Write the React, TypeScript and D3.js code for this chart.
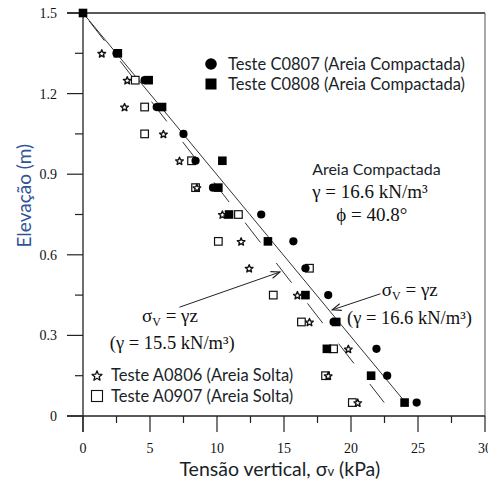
import React from "react";
import * as d3 from "d3";

const elevations = [1.5, 1.35, 1.25, 1.15, 1.05, 0.95, 0.85, 0.75, 0.65, 0.55, 0.45, 0.35, 0.25, 0.15, 0.05];
const c0807: (number | null)[] = [0, 2.5, 4.6, 5.5, 7.5, 8.4, 9.7, 13.3, 15.7, 16.6, 18.3, 18.7, 21.9, 22.7, 24.9];
const c0808: (number | null)[] = [0, 2.6, 4.9, 5.9, null, 10.4, 10.1, 10.9, 13.8, null, 16.6, 18.9, 18.2, 21.5, 24.0];
const a0806: (number | null)[] = [null, 1.4, 3.3, 3.1, 6.0, 7.2, 8.5, 10.4, 11.8, 12.4, 16.0, 16.9, 19.8, 18.3, 20.5];
const a0907: (number | null)[] = [null, null, 3.9, 4.6, 4.6, 8.1, 8.4, 11.6, 10.1, 16.9, 14.2, 16.3, 18.7, 18.1, 20.1];

const yTicksMajor = [0, 0.3, 0.6, 0.9, 1.2, 1.5];
const yTicksMinor = [0.15, 0.45, 0.75, 1.05, 1.35];
const xTicksMajor = [0, 5, 10, 15, 20, 25, 30];
const xTicksMinor = [2.5, 7.5, 12.5, 17.5, 22.5, 27.5];

const gammaDense = 16.6;
const gammaLoose = 15.5;
const surface = 1.5;
const lineEnd = 0.05;

const W = 488;
const H = 482;

const x = d3.scaleLinear().domain([0, 30]).range([83, 485]);
const y = d3.scaleLinear().domain([0, 1.5]).range([416, 13]);

const serif = "'Liberation Serif', 'Times New Roman', serif";
const sans = "Lato, 'Open Sans', sans-serif";

function starPath(cx: number, cy: number, R: number, r: number) {
  const pts: string[] = [];
  for (let i = 0; i < 10; i++) {
    const a = -Math.PI / 2 + (i * Math.PI) / 5;
    const rad = i % 2 === 0 ? R : r;
    pts.push(`${cx + rad * Math.cos(a)},${cy + rad * Math.sin(a)}`);
  }
  return "M" + pts.join("L") + "Z";
}

function pairs(vals: (number | null)[]) {
  return vals
    .map((v, i) => (v == null ? null : { s: v, z: elevations[i] }))
    .filter((d): d is { s: number; z: number } => d != null);
}

export default function App() {
  const mkLine = (g: number) =>
    d3
      .line<number>()
      .x((z) => x(g * (surface - z)))
      .y((z) => y(z))([surface, lineEnd]) as string;

  const ink = "#111";
  const textDark = "#1a1f28";

  return (
    <div style={{ position: "absolute", left: 0, top: 0, width: W, height: H, background: "#fff" }}>
      <svg width={W} height={H} viewBox={`0 0 ${W} ${H}`}>
        <defs>
          <marker id="arr" viewBox="-10 -6 12 12" refX={0} refY={0} markerWidth={12} markerHeight={12} orient="auto" markerUnits="userSpaceOnUse">
            <path d="M-9,-3.5 L0,0 L-9,3.5" fill="none" stroke="#222" strokeWidth={1.1} />
          </marker>
        </defs>
        <rect x={0} y={0} width={W} height={H} fill="#fff" />

        {/* frame */}
        <line x1={x(0) - 16} x2={x(30)} y1={y(1.5)} y2={y(1.5)} stroke="#222" strokeWidth={1.3} />
        <line x1={x(30)} x2={x(30)} y1={y(1.5)} y2={y(0)} stroke="#555" strokeWidth={1} />
        <line x1={x(0) - 16} x2={x(30)} y1={y(0)} y2={y(0)} stroke="#222" strokeWidth={1.3} />
        <line x1={x(0)} x2={x(0)} y1={y(1.5)} y2={y(0) + 16} stroke="#222" strokeWidth={1.3} />

        {/* y ticks */}
        {yTicksMajor.map((t) => (
          <g key={"ym" + t}>
            <line x1={x(0) - 16} x2={x(0)} y1={y(t)} y2={y(t)} stroke="#222" strokeWidth={1.2} />
            <text x={57} y={y(t)} dy="0.35em" textAnchor="end" fontFamily={serif} fontSize={14} fill={ink}>
              {t === 0 ? "0" : d3.format(".1f")(t)}
            </text>
          </g>
        ))}
        {yTicksMinor.map((t) => (
          <line key={"yn" + t} x1={x(0) - 8} x2={x(0)} y1={y(t)} y2={y(t)} stroke="#222" strokeWidth={1.2} />
        ))}

        {/* x ticks */}
        {xTicksMajor.map((t) => (
          <g key={"xm" + t}>
            <line x1={x(t)} x2={x(t)} y1={y(0)} y2={y(0) + 16} stroke="#222" strokeWidth={1.2} />
            <text x={x(t)} y={448} dy="0.35em" textAnchor="middle" fontFamily={serif} fontSize={14} fill={ink}>
              {t}
            </text>
          </g>
        ))}
        {xTicksMinor.map((t) => (
          <line key={"xn" + t} x1={x(t)} x2={x(t)} y1={y(0)} y2={y(0) + 7} stroke="#222" strokeWidth={1.2} />
        ))}

        {/* axis titles */}
        <text
          transform={`translate(24, ${y(0.82)}) rotate(-90)`}
          textAnchor="middle"
          dy="0.35em"
          fontFamily={sans}
          fontSize={19}
          fill="#2f5597"
        >
          Elevação (m)
        </text>
        <text x={x(7.2)} y={476} fontFamily={sans} fontSize={19.5} fill={textDark}>
          Tensão vertical, σ<tspan fontSize={13}>v</tspan> (kPa)
        </text>

        {/* theory lines */}
        <path d={mkLine(gammaDense)} fill="none" stroke="#333" strokeWidth={1} />
        <path d={mkLine(gammaLoose)} fill="none" stroke="#333" strokeWidth={1} strokeDasharray="25 26" strokeDashoffset={41} />

        {/* data: A0907 open squares */}
        {pairs(a0907).map((d, i) => (
          <rect key={"a7" + i} x={x(d.s) - 3.8} y={y(d.z) - 3.8} width={7.6} height={7.6} fill="#fff" stroke="#111" strokeWidth={1.2} />
        ))}
        {/* A0806 stars */}
        {pairs(a0806).map((d, i) => (
          <path key={"a6" + i} d={starPath(x(d.s), y(d.z) + 0.5, 4.0, 1.8)} fill="#fff" stroke="#111" strokeWidth={1.4} strokeLinejoin="round" />
        ))}
        {/* C0808 filled squares */}
        {pairs(c0808).map((d, i) => (
          <rect key={"c8" + i} x={x(d.s) - 4.3} y={y(d.z) - 4.3} width={8.6} height={8.6} fill="#000" />
        ))}
        {/* C0807 filled circles */}
        {pairs(c0807).map((d, i) => (
          <circle key={"c7" + i} cx={x(d.s)} cy={y(d.z)} r={4.1} fill="#000" />
        ))}

        {/* top legend */}
        <circle cx={211} cy={64} r={5.8} fill="#000" />
        <text x={228} y={64} dy="0.35em" fontFamily={sans} fontSize={16.5} fill={textDark}>
          Teste C0807 (Areia Compactada)
        </text>
        <rect x={205.5} y={78.5} width={11} height={11} fill="#000" />
        <text x={228} y={84} dy="0.35em" fontFamily={sans} fontSize={16.5} fill={textDark}>
          Teste C0808 (Areia Compactada)
        </text>

        {/* bottom legend */}
        <path d={starPath(97, 376, 5.2, 2.3)} fill="#fff" stroke="#111" strokeWidth={1.3} strokeLinejoin="round" />
        <text x={111} y={375} dy="0.35em" fontFamily={sans} fontSize={16.5} fill={textDark}>
          Teste A0806 (Areia Solta)
        </text>
        <rect x={91.5} y={390.5} width={11} height={11} fill="#fff" stroke="#111" strokeWidth={1.1} />
        <text x={111} y={396} dy="0.35em" fontFamily={sans} fontSize={16.5} fill={textDark}>
          Teste A0907 (Areia Solta)
        </text>

        {/* dense sand annotation */}
        <text x={x(17.1)} y={175} fontFamily={sans} fontSize={16} fill={textDark}>
          Areia Compactada
        </text>
        <text x={x(17.1)} y={198} fontFamily={serif} fontSize={19} fill={ink}>
          γ = 16.6 kN/m³
        </text>
        <text x={x(18.9)} y={221} fontFamily={serif} fontSize={19} fill={ink}>
          ϕ = 40.8°
        </text>

        {/* right formula */}
        <text x={x(22.3)} y={296} fontFamily={serif} fontSize={19} fill={ink}>
          σ<tspan fontSize={12} dy={4}>V</tspan>
          <tspan dy={-4}> = γz</tspan>
        </text>
        <text x={x(19.7)} y={324} fontFamily={serif} fontSize={18.5} fill={ink}>
          (γ = 16.6 kN/m³)
        </text>
        <line x1={x(22.2)} y1={y(0.455)} x2={x(18.6)} y2={y(0.395)} stroke="#222" strokeWidth={1} markerEnd="url(#arr)" />

        {/* left formula */}
        <text x={x(4.4)} y={322} fontFamily={serif} fontSize={19} fill={ink}>
          σ<tspan fontSize={12} dy={4}>V</tspan>
          <tspan dy={-4}> = γz</tspan>
        </text>
        <text x={x(2.0)} y={349} fontFamily={serif} fontSize={18.5} fill={ink}>
          (γ = 15.5 kN/m³)
        </text>
        <line x1={x(7.2)} y1={y(0.405)} x2={x(14.7)} y2={y(0.536)} stroke="#222" strokeWidth={1} markerEnd="url(#arr)" />
      </svg>
    </div>
  );
}
